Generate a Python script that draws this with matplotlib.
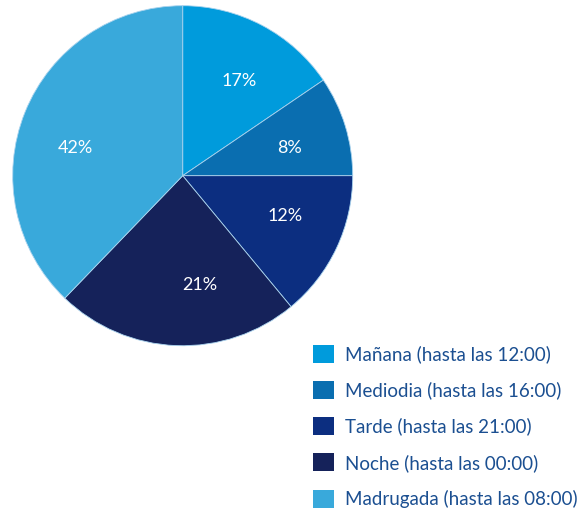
import matplotlib
matplotlib.use('Agg')
import matplotlib.pyplot as plt
import numpy as np

labels = ['Mañana (hasta las 12:00)', 'Mediodia (hasta las 16:00)', 'Tarde (hasta las 21:00)',
          'Noche (hasta las 00:00)', 'Madrugada (hasta las 08:00)']
# wedge sizes as drawn in the picture (they do not follow the printed percents exactly)
shares = [15.5, 9.5, 14.0, 23.2, 37.8]
pct_values = [17, 8, 12, 21, 42]
colors = ['#009bdc', '#0a6eb0', '#0c2e80', '#15225a', '#39a9db']

plt.rcParams['font.family'] = ['Lato', 'DejaVu Sans']

fig = plt.figure(figsize=(5.84, 5.09), dpi=100)
ax = fig.add_axes([12.7 / 584, 1 - 345.7 / 509, 340 / 584, 340 / 509])

wedges, texts = ax.pie(
    shares, colors=colors, startangle=90, counterclock=False,
    wedgeprops=dict(edgecolor='#a9d3ee', linewidth=0.6))

# percent labels sit at the middle of each printed share, clockwise from the top
pv = np.array(pct_values, dtype=float)
mids = 90 - 360 * (np.cumsum(pv) - pv / 2) / pv.sum()
for v, a in zip(pct_values, np.deg2rad(mids)):
    ax.text(0.65 * np.cos(a), 0.65 * np.sin(a), f'{v}%', color='white', fontsize=13,
            ha='center', va='center')

ax.set_aspect('equal')
ax.set_xlim(-1, 1)
ax.set_ylim(-1, 1)

leg = fig.legend(wedges, labels, loc='upper left', bbox_to_anchor=(296 / 584, 1 - 328 / 509),
                 frameon=False, fontsize=13.5, handlelength=1.1, handleheight=1.1,
                 labelspacing=0.95, handletextpad=0.6)
for t in leg.get_texts():
    t.set_color('#1b4f91')
for h in leg.legend_handles:
    h.set_edgecolor('none')

fig.savefig('out.png', dpi=100)
